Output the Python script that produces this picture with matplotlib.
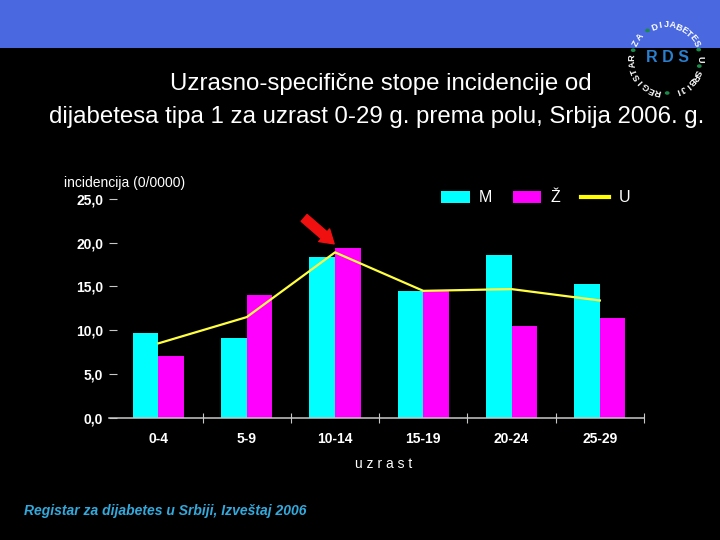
import numpy as np
import matplotlib
matplotlib.use("Agg")
import matplotlib.pyplot as plt
from matplotlib.patches import Rectangle, Patch, Circle
from matplotlib.lines import Line2D
from matplotlib.ticker import FixedLocator, FuncFormatter

plt.rcParams['font.family'] = ['Liberation Sans', 'DejaVu Sans']

# Data
#######

groups = ['0-4', '5-9', '10-14', '15-19', '20-24', '25-29']
male = [9.7, 9.1, 18.4, 14.5, 18.6, 15.3]      # M
female = [7.1, 14.0, 19.4, 14.5, 10.5, 11.4]   # Ž
total = [8.5, 11.5, 18.9, 14.5, 14.7, 13.4]    # U
yticks = [0, 5, 10, 15, 20, 25]

title1 = 'Uzrasno-specifične stope incidencije od'
title2 = 'dijabetesa tipa 1 za uzrast 0-29 g. prema polu, Srbija 2006. g.'
footer = 'Registar za dijabetes u Srbiji, Izveštaj 2006'

W, H = 720, 540

def px(x, y):
    # pixel position (from top left) -> figure fraction
    return x / W, 1 - y / H

fig = plt.figure(figsize=(7.2, 5.4), dpi=100, facecolor='black')

# blue band on top
fig.patches.append(Rectangle((0, 1 - 48 / H), 1, 48 / H, transform=fig.transFigure,
                             facecolor='#4A69E1', edgecolor='none', zorder=0))

# Axes
#######
left, right = 109, 644
top, bottom = 199, 417.7
ax = fig.add_axes([left / W, 1 - bottom / H, (right - left) / W, (bottom - top) / H])
ax.set_facecolor('black')

x = np.arange(len(groups))
bw = 0.29
ax.bar(x - bw / 2, male, bw, color='#00FFFF', zorder=2)
ax.bar(x + bw / 2, female, bw, color='#FF00FF', zorder=2)
ax.plot(x, total, color='#FFFF40', lw=1.6, zorder=3)

ax.set_xlim(-0.56, 5.5)
ax.set_ylim(0, 25)

for s in ['left', 'top', 'right']:
    ax.spines[s].set_visible(False)
ax.spines['bottom'].set_color('#C8C8C8')
ax.spines['bottom'].set_linewidth(1.1)

ax.set_yticks(yticks)
ax.yaxis.set_major_formatter(FuncFormatter(lambda v, p: f'{v:.1f}'.replace('.', ',')))
ax.tick_params(axis='y', direction='in', length=5.8, width=0.8, color='#C8C8C8',
               labelcolor='white', labelsize=10, pad=4.3)
for t in ax.get_yticklabels():
    t.set_fontweight('bold')

ax.set_xticks(x)
ax.set_xticklabels(groups, fontweight='bold')
ax.tick_params(axis='x', which='major', length=0, labelcolor='white', labelsize=10, pad=10)
ax.xaxis.set_minor_locator(FixedLocator(np.arange(0.5, 6, 1)))
ax.tick_params(axis='x', which='minor', direction='inout', length=6.5, width=0.8, color='#C8C8C8')

# red arrow pointing at the peak of U
ax.annotate('', xy=(1.99, 19.87), xytext=(-21.6, 18.7), textcoords='offset points',
            arrowprops=dict(arrowstyle='simple,head_length=0.95,head_width=1.2,tail_width=0.65',
                            color='#F01010', shrinkA=0, shrinkB=0, mutation_scale=10), zorder=5)

# legend
handles = [Patch(facecolor='#00FFFF'), Patch(facecolor='#FF00FF'),
           Line2D([0], [0], color='#FFFF00', lw=3)]
leg = fig.legend(handles, ['M', 'Ž', 'U'], ncol=3, frameon=False, loc='center left',
                 bbox_to_anchor=px(441, 198), borderpad=0, borderaxespad=0,
                 handlelength=1.8, handleheight=0.8, handletextpad=0.55,
                 columnspacing=1.3, fontsize=11.5)
for t in leg.get_texts():
    t.set_color('white')

# Texts
########
fig.text(*px(381, 84), title1, color='white', fontsize=17.3, ha='center', va='center')
fig.text(*px(377, 117), title2, color='white', fontsize=17.3, ha='center', va='center')
fig.text(*px(64, 183), 'incidencija (0/0000)', color='white', fontsize=10, ha='left', va='center')
fig.text(*px(384, 464), 'u z r a s t', color='white', fontsize=10, ha='center', va='center')
fig.text(*px(24, 511), footer, color='#33AADD', fontsize=10, fontstyle='italic',
         fontweight='bold', ha='left', va='center')

# Logo
#######
cx, cy, r = 666, 59, 34
fig.text(*px(667, 58), 'R D S', color='#2A7FD0', fontsize=11.5, fontweight='bold',
         ha='center', va='center')
ring = [('ZA', 152, 140), ('DIJABETES', 110, 27), ('U', 0, 0),
        ('SRBIJI', -23, -69), ('REGISTAR', -104, -182)]
for word, a0, a1 in ring:
    angs = np.linspace(a0, a1, len(word)) if len(word) > 1 else [a0]
    for ch, a in zip(word, angs):
        ar = np.deg2rad(a)
        fig.text(*px(cx + r * np.cos(ar), cy - r * np.sin(ar)), ch, color='white',
                 fontsize=6.5, fontweight='bold', rotation=a - 90,
                 ha='center', va='center', rotation_mode='anchor')
for a in [165, 123, 16, -12, -88]:
    ar = np.deg2rad(a)
    fig.patches.append(Circle(px(cx + r * np.cos(ar), cy - r * np.sin(ar)), 2.4 / W,
                              transform=fig.transFigure, facecolor='#1A8A4A',
                              edgecolor='none'))

fig.savefig('out.png', dpi=100, facecolor='black')
